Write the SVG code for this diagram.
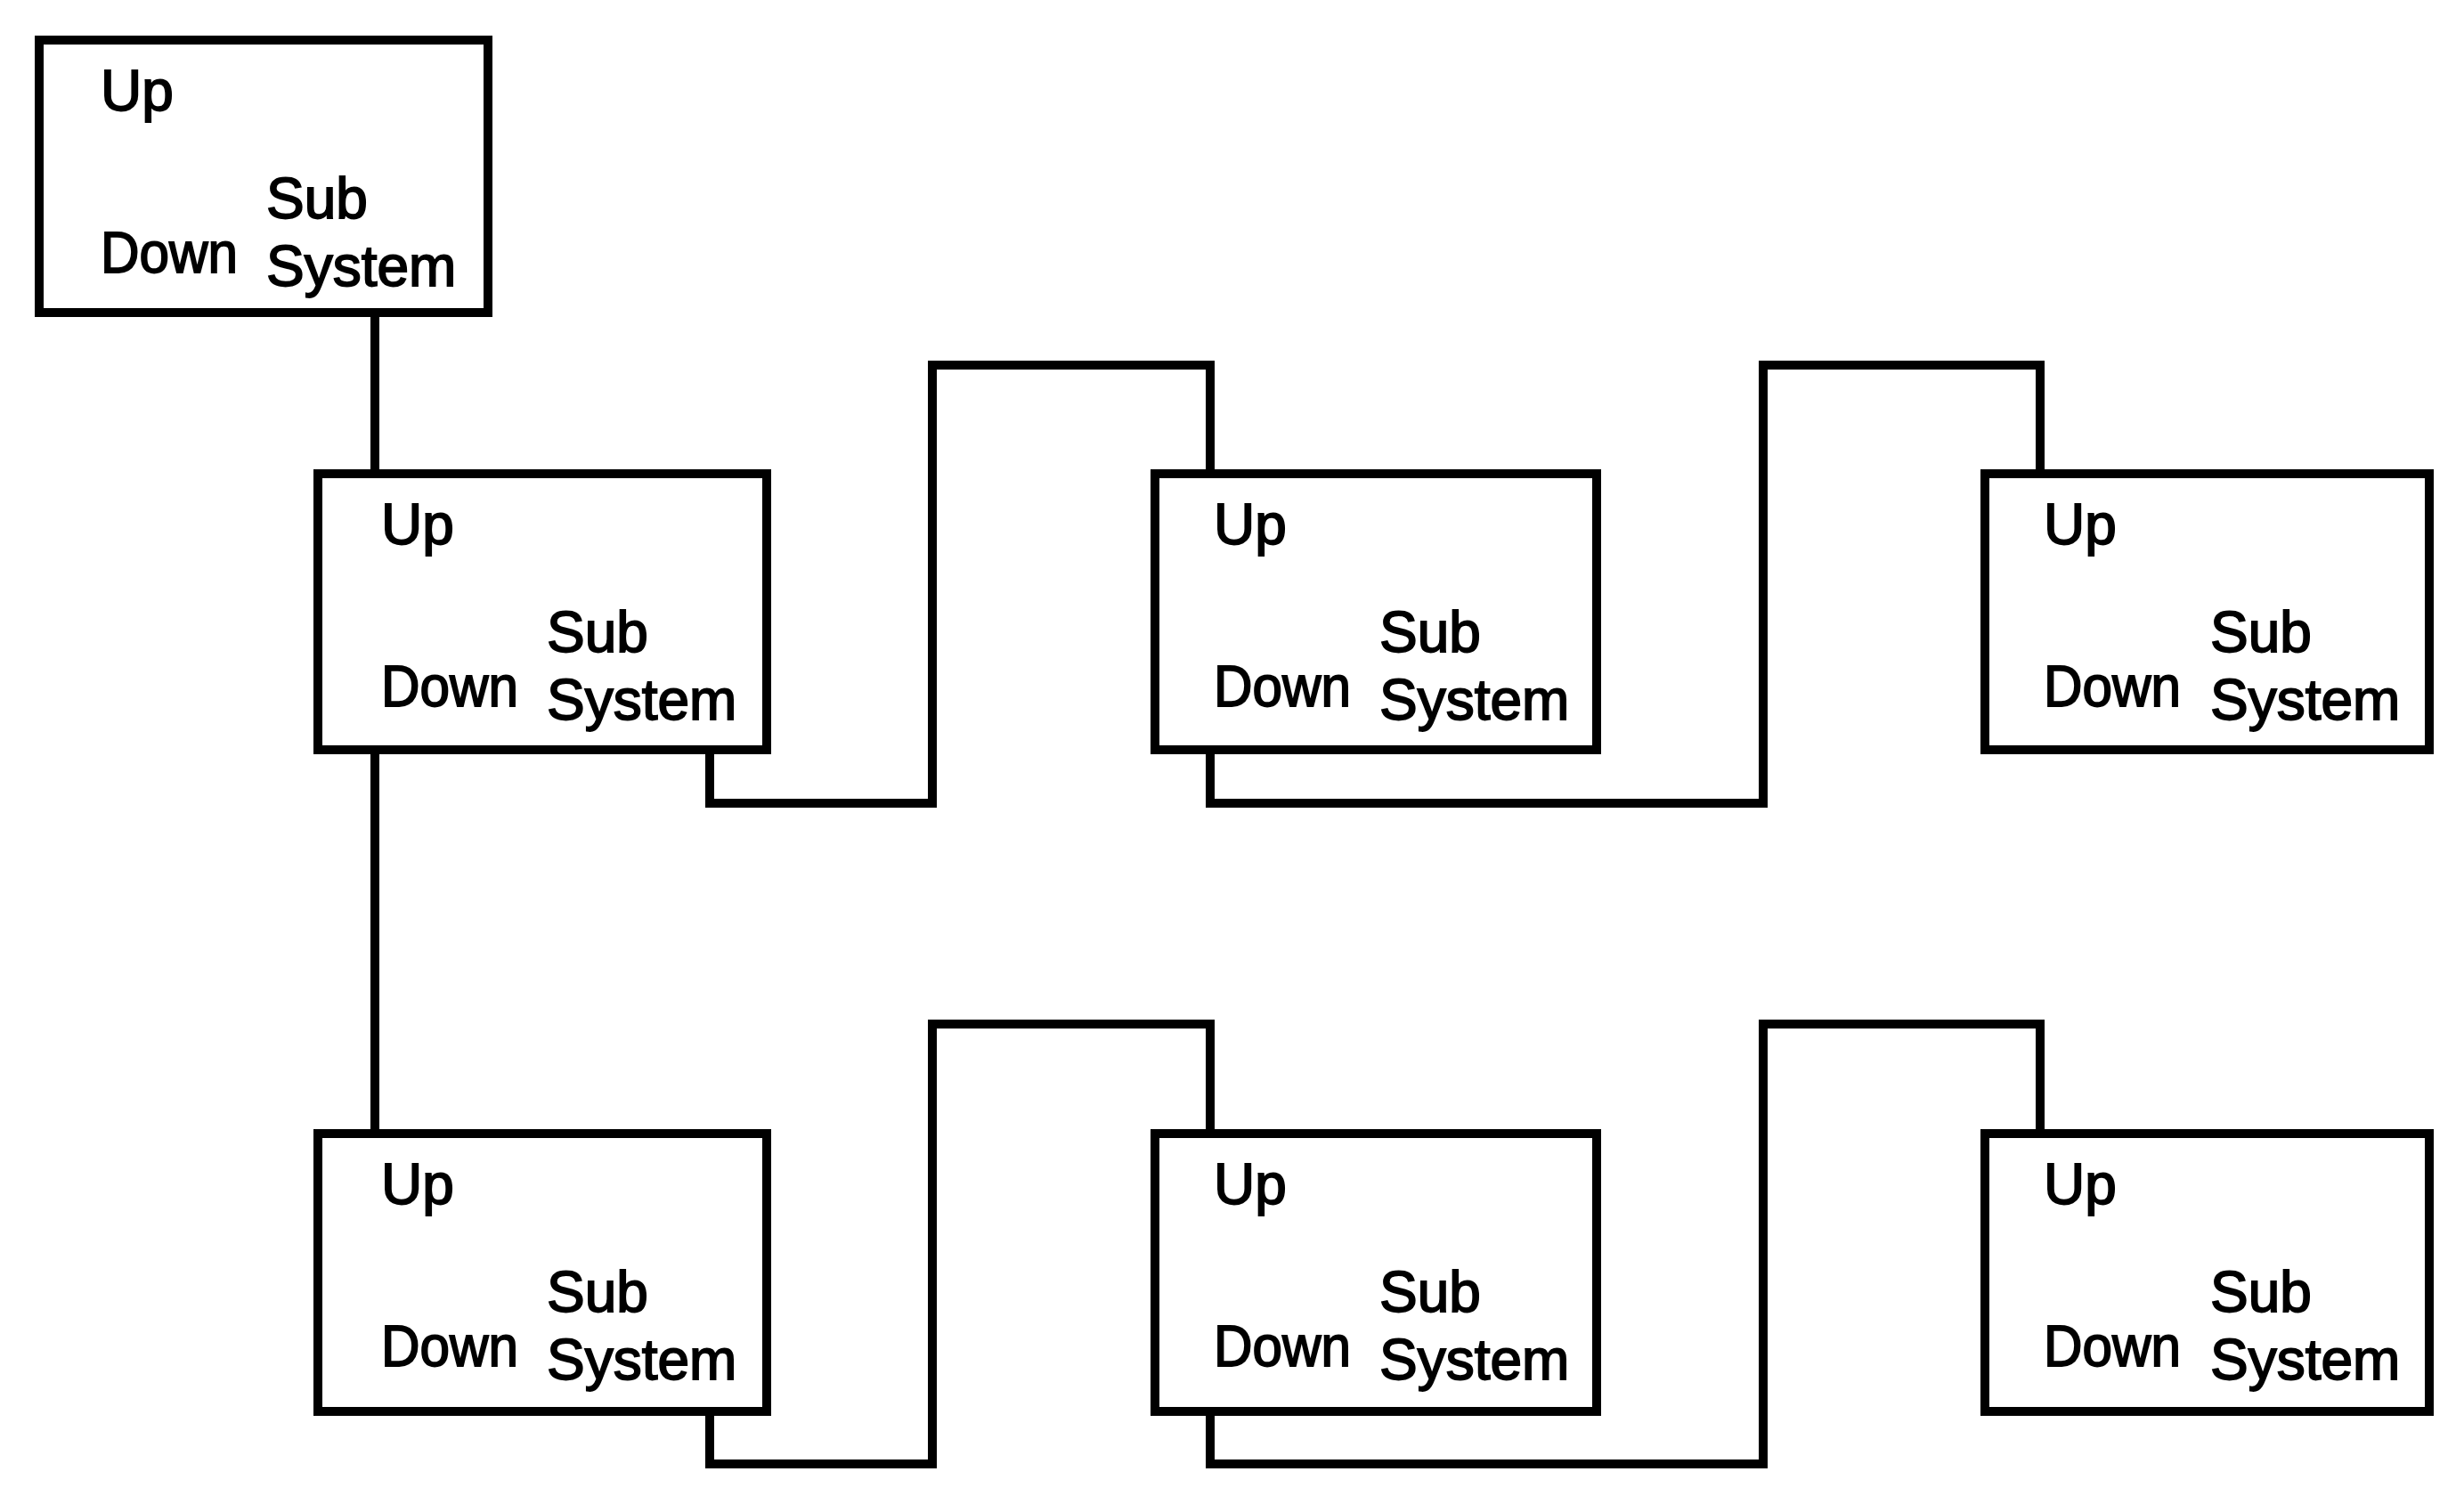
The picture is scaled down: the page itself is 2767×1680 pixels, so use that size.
<svg xmlns="http://www.w3.org/2000/svg" width="2767" height="1680" viewBox="0 0 2767 1680">
<style>
.box{fill:#fff;stroke:#000;stroke-width:10}
.wire{fill:none;stroke:#000;stroke-width:10;stroke-linejoin:miter}
text{font-family:"Liberation Sans",Arial,Helvetica,sans-serif;font-size:64px;fill:#000;stroke:#000;stroke-width:1.8}
</style>
<rect width="2767" height="1680" fill="#fff"/>
<g id="connectors">
<path class="wire" d="M421 355 V527"/>
<path class="wire" d="M421 846 V1268"/>
<path class="wire" d="M797 846 V902 H1047 V410 H1359 V527"/>
<path class="wire" d="M1359 846 V902 H1980 V410 H2291 V527"/>
<path class="wire" d="M797 1589 V1644 H1047 V1150 H1359 V1268"/>
<path class="wire" d="M1359 1589 V1644 H1980 V1150 H2291 V1268"/>
</g>
<g id="node-top" transform="translate(40,40)">
<rect class="box" x="4" y="5" width="504" height="306"/>
<text x="73" y="84">Up</text><text x="259" y="205">Sub</text><text x="73" y="266" textLength="154" lengthAdjust="spacingAndGlyphs">Down</text><text x="259" y="281">System</text>
</g>
<g id="node-r1c1" transform="translate(355,527)">
<rect class="box" x="2" y="5" width="504" height="310"/>
<text x="73" y="84">Up</text><text x="259" y="205">Sub</text><text x="73" y="266" textLength="154" lengthAdjust="spacingAndGlyphs">Down</text><text x="259" y="281">System</text>
</g>
<g id="node-r1c2" transform="translate(1295,527)">
<rect class="box" x="2" y="5" width="496" height="310"/>
<text x="68" y="84">Up</text><text x="254" y="205">Sub</text><text x="68" y="266" textLength="154" lengthAdjust="spacingAndGlyphs">Down</text><text x="254" y="281">System</text>
</g>
<g id="node-r1c3" transform="translate(2227,527)">
<rect class="box" x="2" y="5" width="499" height="310"/>
<text x="68" y="84">Up</text><text x="255" y="205">Sub</text><text x="68" y="266" textLength="154" lengthAdjust="spacingAndGlyphs">Down</text><text x="255" y="281">System</text>
</g>
<g id="node-r2c1" transform="translate(355,1268)">
<rect class="box" x="2" y="5" width="504" height="312"/>
<text x="73" y="84">Up</text><text x="259" y="205">Sub</text><text x="73" y="266" textLength="154" lengthAdjust="spacingAndGlyphs">Down</text><text x="259" y="281">System</text>
</g>
<g id="node-r2c2" transform="translate(1295,1268)">
<rect class="box" x="2" y="5" width="496" height="312"/>
<text x="68" y="84">Up</text><text x="254" y="205">Sub</text><text x="68" y="266" textLength="154" lengthAdjust="spacingAndGlyphs">Down</text><text x="254" y="281">System</text>
</g>
<g id="node-r2c3" transform="translate(2227,1268)">
<rect class="box" x="2" y="5" width="499" height="312"/>
<text x="68" y="84">Up</text><text x="255" y="205">Sub</text><text x="68" y="266" textLength="154" lengthAdjust="spacingAndGlyphs">Down</text><text x="255" y="281">System</text>
</g>
</svg>
